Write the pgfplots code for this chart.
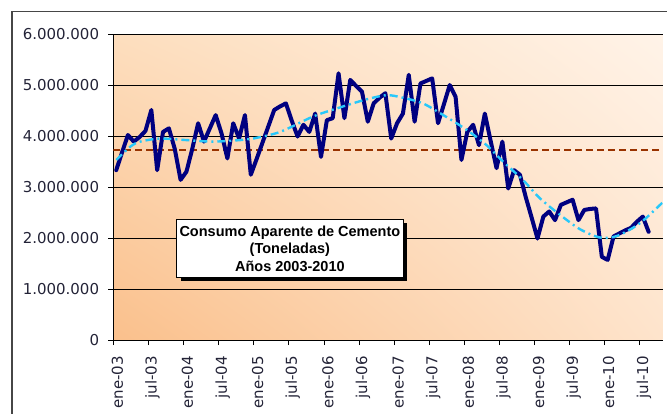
\documentclass[border=0pt]{standalone}
\usepackage{pgfplots}
\pgfplotsset{compat=1.18}
\usepackage{pgfplotstable}
\usetikzlibrary{shadings,shadows}
\usepackage{fontspec}
\setmainfont{DejaVu Sans}
\newfontfamily\titlefont{Liberation Sans}

\definecolor{serie}{RGB}{0,0,128}
\definecolor{tend}{RGB}{40,200,250}
\definecolor{media}{RGB}{153,51,0}
\definecolor{lbl}{RGB}{35,35,55}
\definecolor{marco}{RGB}{70,70,70}
\definecolor{bgLL}{RGB}{250,192,140}
\definecolor{bgUL}{RGB}{253,222,190}
\definecolor{bgLR}{RGB}{254,228,204}
\definecolor{bgUR}{RGB}{255,243,232}

% consumo mensual, millones de toneladas (mes 0 = ene-03)
\pgfplotstableread{
m v
0 3.33
1 3.68
2 4.02
3 3.89
4 3.98
5 4.10
6 4.51
7 3.33
8 4.08
9 4.15
10 3.75
11 3.14
12 3.30
13 3.75
14 4.25
15 3.89
16 4.15
17 4.41
18 4.05
19 3.56
20 4.25
21 3.95
22 4.41
23 3.24
24 3.55
25 3.87
26 4.19
27 4.51
28 4.58
29 4.64
30 4.30
31 3.99
32 4.22
33 4.08
34 4.44
35 3.59
36 4.31
37 4.35
38 5.23
39 4.35
40 5.10
41 4.98
42 4.87
43 4.28
44 4.64
45 4.75
46 4.84
47 3.95
48 4.25
49 4.44
50 5.20
51 4.28
52 5.03
53 5.08
54 5.13
55 4.25
56 4.62
57 5.00
58 4.77
59 3.53
60 4.08
61 4.22
62 3.82
63 4.44
64 3.90
65 3.37
66 3.89
67 2.97
68 3.33
69 3.24
70 2.80
71 2.40
72 1.99
73 2.42
74 2.52
75 2.35
76 2.65
77 2.70
78 2.75
79 2.35
80 2.55
81 2.57
82 2.58
83 1.63
84 1.57
85 2.03
86 2.09
87 2.15
88 2.20
89 2.32
90 2.42
91 2.12
}\consumo

% linea de tendencia
\pgfplotstableread{
m v
0 3.53
2.4 3.79
4.1 3.89
7.5 3.95
12 3.92
16.5 3.89
21.2 3.92
23.4 3.95
28 4.08
33.6 4.38
37.7 4.54
42.5 4.71
46.2 4.80
49 4.75
52.4 4.64
55.9 4.41
59.9 4.12
63.3 3.82
66.1 3.50
69.5 3.14
72.4 2.78
75.9 2.45
79.3 2.17
82.7 2.01
85.6 2.04
89.5 2.29
93.4 2.70
}\tendencia

\begin{document}
\begin{tikzpicture}
\useasboundingbox (0,0) rectangle (667bp,414bp);
\draw[marco, line width=1.2bp] (12bp,0) -- (12bp,402.3bp) -- (667bp,402.3bp);
\begin{axis}[
  at={(113.3bp,74bp)}, anchor=south west,
  scale only axis, width=549.4bp, height=306bp,
  xmin=-0.5, xmax=93.4, ymin=0, ymax=6,
  axis lines=left, axis line style={-, black, line width=1bp},
  xtick={-0.5,5.5,...,89.5},
  xticklabels={ene-03,jul-03,ene-04,jul-04,ene-05,jul-05,ene-06,jul-06,ene-07,jul-07,ene-08,jul-08,ene-09,jul-09,ene-10,jul-10},
  ytick={0,1,2,3,4,5,6},
  yticklabels={0,1.000.000,2.000.000,3.000.000,4.000.000,5.000.000,6.000.000},
  tick align=outside, major tick length=5bp,
  tick style={black, line width=0.8bp},
  ymajorgrids, grid style={black, line width=0.9bp},
  ticklabel style={font=\fontsize{15bp}{17bp}\selectfont, text=lbl, inner sep=0pt},
  xticklabel style={xshift=4bp, rotate=90, anchor=east},
  xticklabel shift=11bp, yticklabel shift=9bp,
  axis background/.style={shade,
    lower left=bgLL, upper left=bgUL, lower right=bgLR, upper right=bgUR},
]
\addplot[media, line width=2.3bp, dash pattern=on 7bp off 4bp] coordinates {(-0.5,3.72) (93.4,3.72)};
\addplot[serie, line width=4bp, line join=round, line cap=round] table[x=m,y=v] {\consumo};
\addplot[tend, line width=2.4bp, smooth, dash pattern=on 8bp off 4bp on 2bp off 4bp] table[x=m,y=v] {\tendencia};
\end{axis}
\node[draw=black, fill=white, line width=1bp, minimum height=58bp,
  drop shadow={shadow xshift=4bp, shadow yshift=-4bp, fill=black, opacity=1},
  anchor=north west, inner xsep=3bp, inner ysep=0pt, align=center,
  font=\titlefont\bfseries\fontsize{14.5bp}{17.5bp}\selectfont] at (176bp,195bp)
  {Consumo Aparente de Cemento\\(Toneladas)\\Años 2003-2010};
\end{tikzpicture}
\end{document}
